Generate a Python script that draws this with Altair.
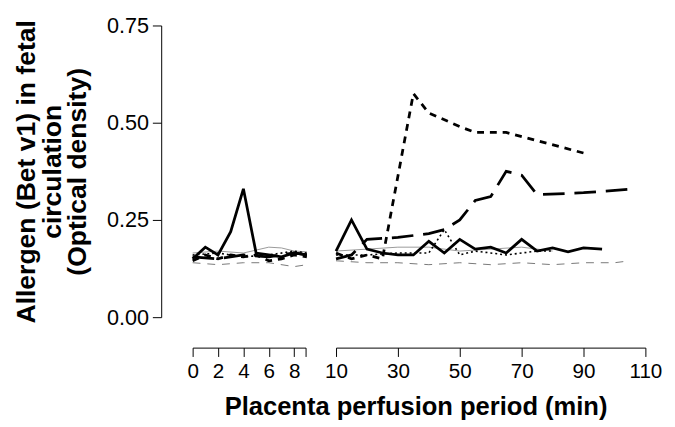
import altair as alt
import pandas as pd

# ---- data ----
solid_left_t = [0, 1, 2, 3, 4, 5, 6, 7, 8, 9]
solid_left_v = [0.15, 0.18, 0.16, 0.22, 0.33, 0.165, 0.16, 0.155, 0.165, 0.16]
solid_right_t = [10, 15, 20, 25, 30, 35, 40, 45, 50, 55, 60, 65, 70, 75, 80, 85, 90, 96]
solid_right_v = [0.17, 0.25, 0.175, 0.165, 0.16, 0.16, 0.195, 0.165, 0.2, 0.175,
                 0.18, 0.165, 0.2, 0.17, 0.178, 0.168, 0.178, 0.175]

dash_left_t = [0, 1, 2, 3, 4, 5, 6, 7, 8, 9]
dash_left_v = [0.145, 0.16, 0.15, 0.16, 0.155, 0.16, 0.145, 0.15, 0.16, 0.155]
dash_right_t = [10, 15, 20, 25, 35, 40, 50, 55, 65, 91]
dash_right_v = [0.165, 0.15, 0.16, 0.15, 0.575, 0.525, 0.49, 0.475, 0.475, 0.42]

long_left_t = [0, 2, 4, 6, 8, 9]
long_left_v = [0.155, 0.15, 0.16, 0.155, 0.165, 0.16]
long_right_t = [10, 15, 20, 30, 40, 45, 50, 55, 60, 65, 70, 75, 90, 107]
long_right_v = [0.15, 0.16, 0.2, 0.205, 0.215, 0.225, 0.25, 0.3, 0.31, 0.375,
                0.365, 0.315, 0.32, 0.33]

dot_left_t = [0, 2, 4, 6, 8, 9]
dot_left_v = [0.16, 0.165, 0.155, 0.16, 0.17, 0.165]
dot_right_t = [10, 20, 30, 35, 40, 45, 50, 55, 60, 65, 70, 75, 80]
dot_right_v = [0.16, 0.16, 0.165, 0.165, 0.165, 0.225, 0.16, 0.17, 0.165, 0.16,
               0.165, 0.17, 0.17]

thin_left_t = [0, 2, 4, 6, 7, 8, 9]
thin_left_v = [0.165, 0.17, 0.165, 0.18, 0.178, 0.17, 0.168]
thin_right_t = [10, 20, 30, 40, 50, 60, 70, 80]
thin_right_v = [0.17, 0.175, 0.18, 0.18, 0.17, 0.175, 0.18, 0.17]

thindash_left_t = [0, 2, 4, 6, 8, 9]
thindash_left_v = [0.14, 0.135, 0.14, 0.14, 0.13, 0.135]
thindash_right_t = [10, 20, 30, 40, 50, 60, 70, 80, 90, 100, 105]
thindash_right_v = [0.145, 0.14, 0.14, 0.135, 0.14, 0.135, 0.14, 0.135, 0.14, 0.14, 0.145]

left_ticks = [0, 2, 4, 6, 8, 8.9]
right_ticks = [10, 30, 50, 70, 90, 110]
y_ticks = [0, 0.25, 0.5, 0.75]

series = {
    "solid": (solid_left_t, solid_left_v, solid_right_t, solid_right_v),
    "dash": (dash_left_t, dash_left_v, dash_right_t, dash_right_v),
    "long": (long_left_t, long_left_v, long_right_t, long_right_v),
    "dot": (dot_left_t, dot_left_v, dot_right_t, dot_right_v),
    "thin": (thin_left_t, thin_left_v, thin_right_t, thin_right_v),
    "thindash": (thindash_left_t, thindash_left_v, thindash_right_t, thindash_right_v),
}

styles = {
    "thindash": dict(color="#777777", strokeWidth=1, strokeDash=[8, 7]),
    "thin": dict(color="#999999", strokeWidth=1),
    "dot": dict(color="black", strokeWidth=1.6, strokeDash=[2, 3]),
    "long": dict(color="black", strokeWidth=2.8, strokeDash=[22, 10]),
    "dash": dict(color="black", strokeWidth=2.8, strokeDash=[7, 6]),
    "solid": dict(color="black", strokeWidth=2.8),
}

rows = []
for name, (lt, lv, rt, rv) in series.items():
    for t, v in zip(lt, lv):
        rows.append({"series": name, "panel": "left", "t": t, "v": v})
    for t, v in zip(rt, rv):
        rows.append({"series": name, "panel": "right", "t": t, "v": v})
df = pd.DataFrame(rows)

FONT = "Liberation Sans"
H = 297

x_axis_common = dict(
    offset=31, tickSize=9, labelFontSize=21, labelColor="black",
    domainColor="black", tickColor="black", labelFont=FONT, title=None,
    labelPadding=4, grid=False, labelFlush=False,
    labelExpr="datum.value > 8.5 && datum.value < 10 ? '' : datum.label",
)


def panel(side):
    if side == "left":
        xscale = alt.Scale(domain=[0, 8.9], nice=False, zero=False)
        xaxis = alt.Axis(values=left_ticks, **x_axis_common)
        yaxis = alt.Axis(
            values=y_ticks, format=".2f", offset=32, tickSize=9, labelFontSize=22,
            labelColor="black", labelFont=FONT, domainColor="black", tickColor="black",
            grid=False, labelPadding=4,
            title=["Allergen (Bet v1) in fetal", "circulation", "(Optical density)"],
            titleFont=FONT, titleFontSize=27, titleFontWeight="bold",
            titleColor="black", titlePadding=15, titleLineHeight=26,
        )
        w = 115
    else:
        xscale = alt.Scale(domain=[10, 110], nice=False, zero=False)
        xaxis = alt.Axis(values=right_ticks, **x_axis_common)
        yaxis = None
        w = 315
    layers = []
    for name, st in styles.items():
        sub = df[(df.series == name) & (df.panel == side)]
        layers.append(
            alt.Chart(sub).mark_line(**st).encode(
                x=alt.X("t:Q", scale=xscale, axis=xaxis),
                y=alt.Y("v:Q", scale=alt.Scale(domain=[0, 0.75], nice=False), axis=yaxis),
            )
        )
    return alt.layer(*layers).properties(width=w, height=H)


chart = alt.hconcat(panel("left"), panel("right"), spacing=12).properties(
    title=alt.TitleParams(
        "Placenta perfusion period (min)", orient="bottom", anchor="middle",
        font=FONT, fontSize=26, fontWeight="bold", color="black", offset=14, dx=80,
    ),
    padding={"left": 5, "top": 3, "right": 5, "bottom": 2},
    background="white",
).configure_view(strokeWidth=0)

chart.save("out.html", embed_options={"renderer": "svg", "actions": False})
